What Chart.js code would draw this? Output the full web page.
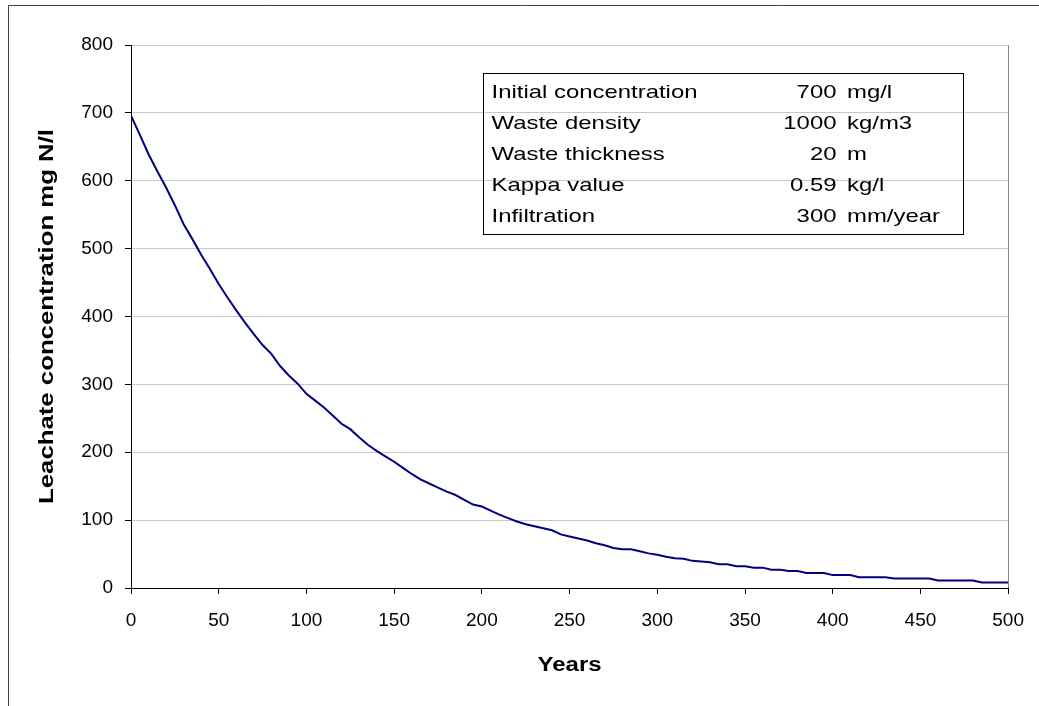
<!DOCTYPE html>
<html>
<head>
<meta charset="utf-8">
<script src="https://cdn.jsdelivr.net/npm/chart.js@4"></script>
<style>
  html, body { margin: 0; padding: 0; background: #fff; }
  canvas { display: block; }
</style>
</head>
<body>
<canvas id="chart" width="1039" height="706"></canvas>
<script>
// Years (x) and leachate concentration mg N/l (y)
const years = [
    0, 5, 10, 15, 20, 25, 30, 35, 40, 45, 50, 55, 60, 65, 70, 75, 80, 85, 90, 95,
    100, 105, 110, 115, 120, 125, 130, 135, 140, 145, 150, 155, 160, 165, 170, 175, 180, 185, 190, 195,
    200, 205, 210, 215, 220, 225, 230, 235, 240, 245, 250, 255, 260, 265, 270, 275, 280, 285, 290, 295,
    300, 305, 310, 315, 320, 325, 330, 335, 340, 345, 350, 355, 360, 365, 370, 375, 380, 385, 390, 395,
    400, 405, 410, 415, 420, 425, 430, 435, 440, 445, 450, 455, 460, 465, 470, 475, 480, 485, 490, 495, 500
];
const concentration = [
    696, 668, 639, 614, 590, 564, 536, 514, 491, 470, 448, 428, 409, 391, 374, 358, 345, 327, 313, 301,
    286, 276, 266, 254, 242, 234, 222, 211, 202, 194, 186, 177, 168, 160, 154, 148, 142, 137, 130, 123,
    120, 114, 108, 103, 98, 94, 91, 88, 85, 79, 76, 73, 70, 66, 63, 59, 57, 57, 54, 51,
    49, 46, 44, 43, 40, 39, 38, 35, 35, 32, 32, 30, 30, 27, 27, 25, 25, 22, 22, 22,
    19, 19, 19, 16, 16, 16, 16, 14, 14, 14, 14, 14, 11, 11, 11, 11, 11, 8, 8, 8, 8
];

// Parameter box rows
const paramLabels = ['Initial concentration', 'Waste density', 'Waste thickness', 'Kappa value', 'Infiltration'];
const paramValues = ['700', '1000', '20', '0.59', '300'];
const paramUnits = ['mg/l', 'kg/m3', 'm', 'kg/l', 'mm/year'];

const xTitle = 'Years';
const yTitle = 'Leachate concentration mg N/l';

const FONT = '"Liberation Sans", Arial, sans-serif';

// draws text stretched horizontally by sx
function stretchText(ctx, text, x, y, sx, align) {
    ctx.save();
    ctx.translate(x, y);
    ctx.scale(sx, 1);
    ctx.textAlign = align;
    ctx.fillText(text, 0, 0);
    ctx.restore();
}

const decorPlugin = {
    id: 'decor',
    beforeDraw(chart) {
        const ctx = chart.ctx;
        ctx.save();
        ctx.fillStyle = '#fff';
        ctx.fillRect(0, 0, chart.width, chart.height);
        // outer frame (top and left only)
        ctx.strokeStyle = '#404040';
        ctx.lineWidth = 1;
        ctx.beginPath();
        ctx.moveTo(8.5, chart.height);
        ctx.lineTo(8.5, 5.5);
        ctx.lineTo(chart.width, 5.5);
        ctx.stroke();
        ctx.restore();
    },
    afterDraw(chart) {
        const ctx = chart.ctx;
        const area = chart.chartArea;
        ctx.save();

        // right border of plot area
        ctx.strokeStyle = '#888';
        ctx.lineWidth = 1;
        ctx.beginPath();
        ctx.moveTo(Math.round(area.right) + 0.5, area.top);
        ctx.lineTo(Math.round(area.right) + 0.5, area.bottom);
        ctx.stroke();

        // axis titles
        ctx.fillStyle = '#000';
        ctx.font = 'bold 20px ' + FONT;
        ctx.textBaseline = 'alphabetic';
        let w = ctx.measureText(xTitle).width;
        stretchText(ctx, xTitle, (area.left + area.right) / 2, 671, 64 / w, 'center');

        w = ctx.measureText(yTitle).width;
        ctx.save();
        ctx.translate(46, (area.top + area.bottom) / 2);
        ctx.rotate(-Math.PI / 2);
        stretchText(ctx, yTitle, 0, 7, 375 / w, 'center');
        ctx.restore();

        // parameter box
        ctx.strokeStyle = '#000';
        ctx.strokeRect(483.5, 73.5, 480, 161);
        ctx.font = '19px ' + FONT;
        const sx = 206 / ctx.measureText(paramLabels[0]).width;
        paramLabels.forEach((label, i) => {
            const base = 97.5 + i * 31;
            stretchText(ctx, label, 491.5, base, sx, 'left');
            stretchText(ctx, paramValues[i], 836.5, base, sx, 'right');
            stretchText(ctx, paramUnits[i], 847, base, sx, 'left');
        });
        ctx.restore();
    }
};

const points = years.map((x, i) => ({ x: x, y: concentration[i] }));

new Chart(document.getElementById('chart'), {
    type: 'line',
    data: {
        datasets: [{
            data: points,
            borderColor: '#000080',
            borderWidth: 2,
            pointRadius: 0,
            tension: 0,
            fill: false
        }]
    },
    options: {
        responsive: false,
        animation: false,
        events: [],
        layout: {
            padding: { left: 0, right: 29, top: 45, bottom: 0 }
        },
        plugins: {
            legend: { display: false },
            tooltip: { enabled: false }
        },
        scales: {
            x: {
                type: 'linear',
                min: 0,
                max: 500,
                afterFit: (scale) => { scale.height = 118; },
                ticks: {
                    stepSize: 50,
                    color: '#000',
                    padding: 15,
                    maxRotation: 0,
                    font: { family: FONT, size: 19 }
                },
                grid: {
                    drawOnChartArea: false,
                    drawTicks: true,
                    tickLength: 6,
                    tickColor: '#000'
                },
                border: { color: '#000', width: 1 }
            },
            y: {
                min: 0,
                max: 800,
                afterFit: (scale) => { scale.width = 131; },
                ticks: {
                    stepSize: 100,
                    color: '#000',
                    padding: 12,
                    font: { family: FONT, size: 19 }
                },
                grid: {
                    color: '#c8c8c8',
                    tickLength: 6,
                    tickColor: '#000'
                },
                border: { color: '#000', width: 1 }
            }
        }
    },
    plugins: [decorPlugin]
});
</script>
</body>
</html>
